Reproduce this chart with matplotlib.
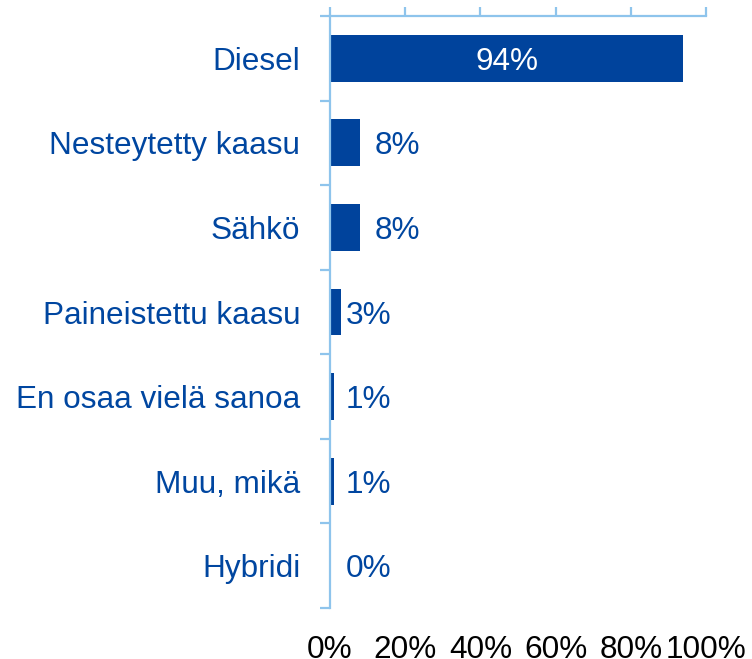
import matplotlib
matplotlib.use("Agg")
import matplotlib.pyplot as plt
import numpy as np

categories = ["Diesel", "Nesteytetty kaasu", "Sähkö", "Paineistettu kaasu",
              "En osaa vielä sanoa", "Muu, mikä", "Hybridi"]
values = [94, 8, 8, 3, 1, 1, 0]
xticks = [0, 20, 40, 60, 80, 100]
xticklabels = ["0%", "20%", "40%", "60%", "80%", "100%"]

bar_color = "#00439C"
text_blue = "#0046A0"
spine_color = "#8EC4EC"
fs = 22.7

plt.rcParams['font.family'] = ['Liberation Sans', 'DejaVu Sans']

fig = plt.figure(figsize=(7.52, 6.59), dpi=100)
ax = fig.add_axes([330/752, 1-608/659, 376/752, 592/659])

n = len(categories)
y = np.arange(n)
ax.barh(y, values, height=0.555, color=bar_color, zorder=2)
ax.set_xlim(0, 100)
ax.set_ylim(n - 0.5, -0.5)

# labels
for yi, v in zip(y, values):
    if v >= 50:
        ax.text(v / 2, yi, f"{v}%", color="white", fontsize=fs,
                ha="center", va="center_baseline")
    else:
        lx = v + 4 if v >= 5 else 4.2
        ax.text(lx, yi, f"{v}%", color=text_blue, fontsize=fs,
                ha="left", va="center_baseline")

ax.set_yticks(y)
ax.set_yticklabels(categories, color=text_blue, fontsize=fs)
ax.set_yticks(np.arange(n + 1) - 0.5, minor=True)
ax.tick_params(axis="y", which="major", length=0, pad=21.5)
ax.tick_params(axis="y", which="minor", length=7, width=1.6, color=spine_color,
               direction="out")

ax.set_xticks(xticks)
ax.set_xticklabels(xticklabels, fontsize=fs, color="black")
ax.tick_params(axis="x", which="major", top=True, bottom=False,
               labeltop=False, labelbottom=True, length=6.5, width=1.6,
               color=spine_color, direction="out", pad=13)

for s in ["right", "bottom"]:
    ax.spines[s].set_visible(False)
for s in ["left", "top"]:
    ax.spines[s].set_color(spine_color)
    ax.spines[s].set_linewidth(1.6)

fig.savefig("out.png", dpi=100)
